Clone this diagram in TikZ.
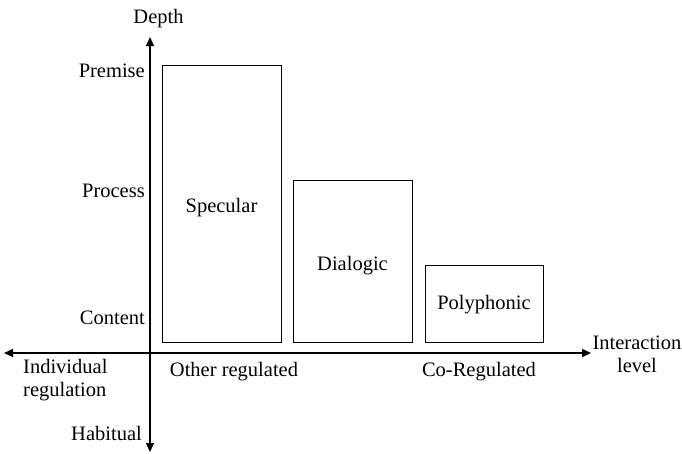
\documentclass[tikz,border=0pt]{standalone}
\usepackage{fontspec}
\setmainfont{Liberation Serif}
\usetikzlibrary{arrows.meta}
\begin{document}
\begin{tikzpicture}[x=1pt,y=-1pt,
  axis/.style={line width=1.4pt,-{Triangle[length=9pt,width=8pt]}},
  bar/.style={draw,line width=1.1pt,inner sep=0pt,anchor=south west},
  lbl/.style={font=\fontsize{20.5}{23.5}\selectfont,inner sep=0pt},
  lbll/.style={lbl,anchor=east},
  tag/.style={font=\fontsize{20.5}{23}\selectfont,align=center,inner sep=0pt}]
\useasboundingbox (0,0) rectangle (682,453);
% axes
\coordinate (origin) at (150,353);
\coordinate (ytop) at (150,37);
\coordinate (ybot) at (150,452);
\coordinate (xleft) at (4,353);
\coordinate (xright) at (591,353);
\draw[axis] (origin) -- (ytop);
\draw[axis] (origin) -- (ybot);
\draw[axis] (origin) -- (xleft);
\draw[axis] (origin) -- (xright);
% bars
\node[bar,minimum width=119pt,minimum height=277pt] (specbar) at (162,343) {};
\node[bar,minimum width=119pt,minimum height=162pt] (dialbar) at (293,343) {};
\node[bar,minimum width=118pt,minimum height=77pt] (polybar) at (425,343) {};
\node[lbl] (specular) at (221.5,207.5) {Specular};
\node[lbl] (dialogic) at (352.5,265.5) {Dialogic};
\node[lbl] (polyphonic) at (484,304.5) {Polyphonic};
% depth levels
\node[lbl] (depth) at (158.5,19) {Depth};
\node[lbll] (premise) at (145,71) {Premise};
\node[lbll] (process) at (145,191) {Process};
\node[lbll] (content) at (145,318) {Content};
\node[lbll] (habitual) at (142,433) {Habitual};
% interaction levels
\node[tag,align=left,anchor=west] (indiv) at (23,380.5) {Individual\\regulation};
\node[lbl] (other) at (234,371.5) {Other regulated};
\node[lbl] (coreg) at (479,371.5) {Co-Regulated};
\node[tag] (inter) at (637,354) {Interaction\\level};
\end{tikzpicture}
\end{document}
